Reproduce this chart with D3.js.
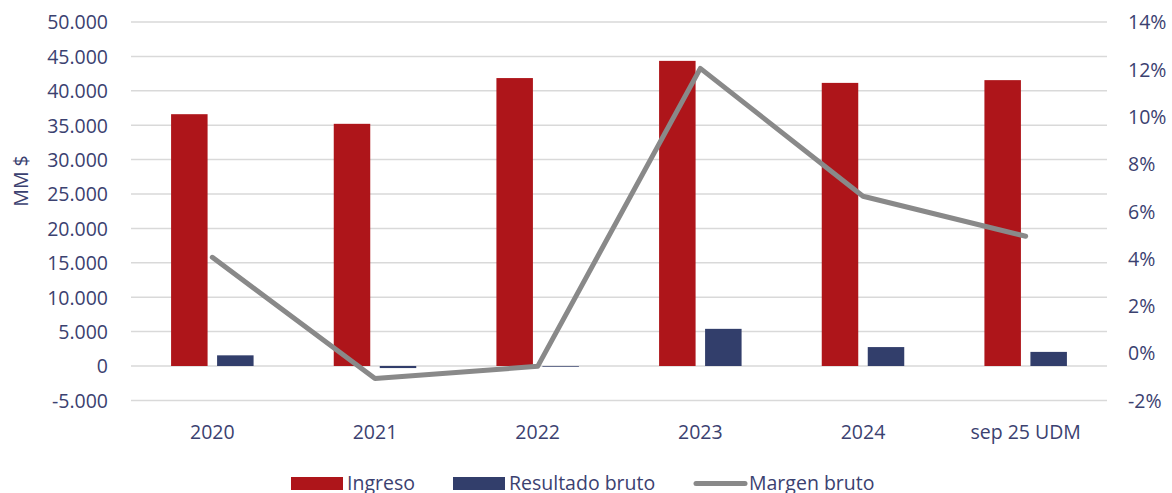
<!DOCTYPE html>
<html>
<head>
<meta charset="utf-8">
<script src="https://cdn.jsdelivr.net/npm/d3@7"></script>
<style>
  body { margin: 0; background: #fff; }
  text { font-family: "Open Sans", "Noto Sans", sans-serif; fill: #3b4170; }
</style>
</head>
<body>
<div id="chart"></div>
<script>
const CATEGORIES = ["2020", "2021", "2022", "2023", "2024", "sep 25 UDM"];
const INGRESO = [36600, 35200, 41850, 44350, 41150, 41550];
const RESULTADO = [1550, -300, -100, 5400, 2750, 2050];
const MARGEN = [4.05, -1.07, -0.56, 12.04, 6.63, 4.94];
const LEFT_TICKS = [-5000, 0, 5000, 10000, 15000, 20000, 25000, 30000, 35000, 40000, 45000, 50000];
const RIGHT_TICKS = [-2, 0, 2, 4, 6, 8, 10, 12, 14];

const WIDTH = 1172;
const HEIGHT = 493;
const LEFT = 131;
const RIGHT = 1107;
const TOP = 22;
const BOTTOM = 400.4;
const BAR_WIDTH = 36.5;
const BAR_OFFSET = 23;
const FONT = 19.5;

const RED = "#ae151a";
const BLUE = "#323e6b";
const GREY = "#898989";

const locale = d3.formatLocale({ decimal: ",", thousands: ".", grouping: [3], currency: ["$", ""], minus: "-" });
const fmt = locale.format(",.0f");

const svg = d3.select("#chart").append("svg")
    .attr("width", WIDTH)
    .attr("height", HEIGHT);

const x = d3.scaleBand()
  .domain(CATEGORIES)
  .range([LEFT, RIGHT]);

const y = d3.scaleLinear()
  .domain([-5000, 50000])
  .range([BOTTOM, TOP]);

const y2 = d3.scaleLinear()
  .domain([-2, 14])
  .range([BOTTOM, TOP]);

// gridlines
svg.append("g")
  .selectAll("line")
  .data(LEFT_TICKS)
  .enter().append("line")
    .attr("x1", LEFT)
    .attr("x2", RIGHT)
    .attr("y1", d => y(d))
    .attr("y2", d => y(d))
    .attr("stroke", "#d9d9d9")
    .attr("stroke-width", 1.5);

// left axis
const leftAxis = svg.append("g")
    .attr("transform", `translate(${LEFT - 20},0)`)
    .call(d3.axisLeft(y).tickValues(LEFT_TICKS).tickSize(0).tickFormat(fmt));
leftAxis.select(".domain").remove();
leftAxis.selectAll("text")
    .attr("font-size", FONT)
    .attr("dy", "0.35em");

// right axis
const rightAxis = svg.append("g")
    .attr("transform", `translate(${RIGHT + 18},0)`)
    .call(d3.axisRight(y2).tickValues(RIGHT_TICKS).tickSize(0).tickFormat(d => locale.format("d")(d) + "%"));
rightAxis.select(".domain").remove();
rightAxis.selectAll("text")
    .attr("font-size", FONT)
    .attr("dy", "0.35em");

// axis title
svg.append("text")
    .attr("transform", "translate(28,181) rotate(-90)")
    .attr("text-anchor", "middle")
    .attr("font-size", FONT)
    .text("MM $");

// x labels
svg.append("g")
  .selectAll("text")
  .data(CATEGORIES)
  .enter().append("text")
    .attr("x", d => x(d) + x.bandwidth() / 2)
    .attr("y", 439)
    .attr("text-anchor", "middle")
    .attr("font-size", FONT)
    .text(d => d);

// bars
svg.append("g")
  .selectAll("rect")
  .data(INGRESO)
  .enter().append("rect")
    .attr("x", (d, i) => x(CATEGORIES[i]) + x.bandwidth() / 2 - BAR_OFFSET - BAR_WIDTH / 2)
    .attr("y", d => y(Math.max(0, d)))
    .attr("width", BAR_WIDTH)
    .attr("height", d => Math.abs(y(d) - y(0)))
    .attr("fill", RED);

svg.append("g")
  .selectAll("rect")
  .data(RESULTADO)
  .enter().append("rect")
    .attr("x", (d, i) => x(CATEGORIES[i]) + x.bandwidth() / 2 + BAR_OFFSET - BAR_WIDTH / 2)
    .attr("y", d => y(Math.max(0, d)))
    .attr("width", BAR_WIDTH)
    .attr("height", d => Math.abs(y(d) - y(0)))
    .attr("fill", BLUE);

// line
const line = d3.line()
  .x((d, i) => x(CATEGORIES[i]) + x.bandwidth() / 2)
  .y(d => y2(d));

svg.append("path")
    .datum(MARGEN)
    .attr("d", line)
    .attr("fill", "none")
    .attr("stroke", GREY)
    .attr("stroke-width", 5)
    .attr("stroke-linecap", "round")
    .attr("stroke-linejoin", "round");

// legend
const legend = svg.append("g");
const LEGEND = [
  { label: "Ingreso", color: RED, type: "rect", x: 291 },
  { label: "Resultado bruto", color: BLUE, type: "rect", x: 453 },
  { label: "Margen bruto", color: GREY, type: "line", x: 693 }
];
LEGEND.forEach(l => {
  if (l.type === "rect") {
    legend.append("rect")
        .attr("x", l.x)
        .attr("y", 477)
        .attr("width", 52)
        .attr("height", 13)
        .attr("fill", l.color);
  } else {
    legend.append("line")
        .attr("x1", l.x + 3)
        .attr("x2", l.x + 52)
        .attr("y1", 483.5)
        .attr("y2", 483.5)
        .attr("stroke", l.color)
        .attr("stroke-width", 5)
        .attr("stroke-linecap", "round");
  }
  legend.append("text")
      .attr("x", l.x + 56)
      .attr("y", 490)
      .attr("font-size", FONT)
      .text(l.label);
});
</script>
</body>
</html>
